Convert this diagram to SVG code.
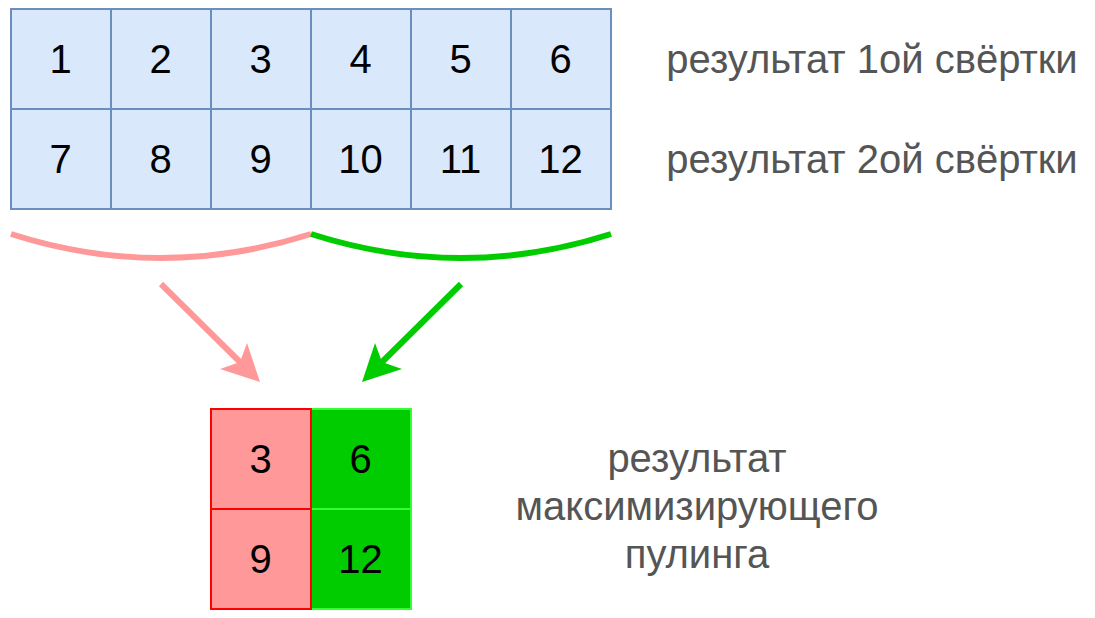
<svg xmlns="http://www.w3.org/2000/svg" width="1095" height="618" viewBox="0 0 1095 618">
<style>
.cell{fill:#dae8fc;stroke:#6c8ebf;stroke-width:2}
.red{fill:#ff9999;stroke:#ff0000;stroke-width:2}
.green{fill:#00cc00;stroke:#33ff33;stroke-width:2}
.num{font-family:"Liberation Sans",Arial,sans-serif;font-size:40px;fill:#000;text-anchor:middle}
.lbl{font-family:"Liberation Sans",Arial,sans-serif;font-size:40px;fill:#555555;text-anchor:middle}
</style>
<rect width="1095" height="618" fill="#ffffff"/>
<g id="grid">
<g id="c1"><rect class="cell" x="11" y="9" width="100" height="100"/><text class="num" x="60.5" y="73">1</text></g>
<g id="c2"><rect class="cell" x="111" y="9" width="100" height="100"/><text class="num" x="160.5" y="73">2</text></g>
<g id="c3"><rect class="cell" x="211" y="9" width="100" height="100"/><text class="num" x="260.5" y="73">3</text></g>
<g id="c4"><rect class="cell" x="311" y="9" width="100" height="100"/><text class="num" x="360.5" y="73">4</text></g>
<g id="c5"><rect class="cell" x="411" y="9" width="100" height="100"/><text class="num" x="460.5" y="73">5</text></g>
<g id="c6"><rect class="cell" x="511" y="9" width="100" height="100"/><text class="num" x="560.5" y="73">6</text></g>
<g id="c7"><rect class="cell" x="11" y="109" width="100" height="100"/><text class="num" x="60.5" y="173">7</text></g>
<g id="c8"><rect class="cell" x="111" y="109" width="100" height="100"/><text class="num" x="160.5" y="173">8</text></g>
<g id="c9"><rect class="cell" x="211" y="109" width="100" height="100"/><text class="num" x="260.5" y="173">9</text></g>
<g id="c10"><rect class="cell" x="311" y="109" width="100" height="100"/><text class="num" x="360.5" y="173">10</text></g>
<g id="c11"><rect class="cell" x="411" y="109" width="100" height="100"/><text class="num" x="460.5" y="173">11</text></g>
<g id="c12"><rect class="cell" x="511" y="109" width="100" height="100"/><text class="num" x="560.5" y="173">12</text></g>
</g>
<g id="label1"><text class="lbl" x="872" y="73">результат 1ой свёртки</text></g>
<g id="label2"><text class="lbl" x="872" y="173">результат 2ой свёртки</text></g>
<g id="pool">
<g id="p2"><rect class="green" x="311" y="409" width="100" height="100"/><text class="num" x="360.5" y="473">6</text></g>
<g id="p4"><rect class="green" x="311" y="509" width="100" height="100"/><text class="num" x="360.5" y="573">12</text></g>
<g id="p1"><rect class="red" x="211" y="409" width="100" height="100"/><text class="num" x="260.5" y="473">3</text></g>
<g id="p3"><rect class="red" x="211" y="509" width="100" height="100"/><text class="num" x="260.5" y="573">9</text></g>
</g>
<g id="label3"><text class="lbl" x="697" y="472">результат</text><text class="lbl" x="697" y="520">максимизирующего</text><text class="lbl" x="697" y="568">пулинга</text></g>
<g id="connectors">
<path d="M11 234 Q161 282 311 234" fill="none" stroke="#ff9999" stroke-width="6"/>
<path d="M311 234 Q461 282 611 234" fill="none" stroke="#00cc00" stroke-width="6"/>
<line x1="161" y1="284" x2="243" y2="365" stroke="#ff9999" stroke-width="6"/>
<polygon points="260,382 220,369 240,362 247,343" fill="#ff9999"/>
<line x1="461" y1="284" x2="379" y2="365" stroke="#00cc00" stroke-width="6"/>
<polygon points="362,382 402,369 382,362 375,343" fill="#00cc00"/>
</g>
</svg>
